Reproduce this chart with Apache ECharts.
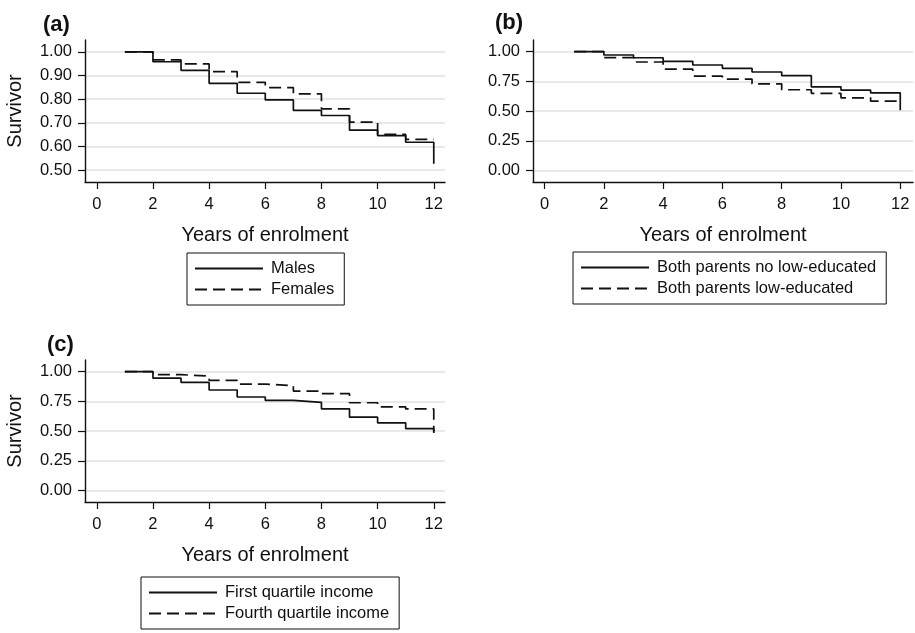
<!DOCTYPE html>
<html>
<head>
<meta charset="utf-8">
<script src="https://cdn.jsdelivr.net/npm/echarts@6/dist/echarts.min.js"></script>
<style>
  html, body { margin: 0; padding: 0; background: #fff; }
  #chart { width: 915px; height: 633px; }
</style>
</head>
<body>
<div id="chart"></div>
<script>
// step points: value at year k holds from k to k+1, last entry is the level after the final drop
const years = [1, 2, 3, 4, 5, 6, 7, 8, 9, 10, 11, 12];
const xTicks = [0, 2, 4, 6, 8, 10, 12];
const yTicksA = [0.5, 0.6, 0.7, 0.8, 0.9, 1.0];
const yTicksBC = [0, 0.25, 0.5, 0.75, 1.0];

const males = [1.0, 0.958, 0.922, 0.867, 0.825, 0.797, 0.753, 0.731, 0.669, 0.646, 0.618, 0.527];
const females = [1.0, 0.966, 0.949, 0.916, 0.871, 0.849, 0.822, 0.759, 0.703, 0.651, 0.63, 0.63];

const parentsNoLow = [1.0, 0.972, 0.949, 0.919, 0.888, 0.86, 0.829, 0.798, 0.705, 0.677, 0.654, 0.508];
const parentsLow = [1.0, 0.95, 0.913, 0.854, 0.795, 0.77, 0.73, 0.68, 0.649, 0.612, 0.584, 0.584];

const firstQuartile = [1.0, 0.945, 0.91, 0.846, 0.787, 0.758, 0.742, 0.688, 0.618, 0.57, 0.522, 0.485];
const fourthQuartile = [1.0, 0.975, 0.963, 0.927, 0.896, 0.882, 0.837, 0.815, 0.739, 0.705, 0.687, 0.5];

const font = '"Liberation Sans", Arial, Helvetica, sans-serif';
const ink = '#111';

const chart = echarts.init(document.getElementById('chart'));

const xAxisFor = gridIndex => ({
  type: 'value',
  gridIndex,
  min: -0.42,
  max: 12.4,
  name: 'Years of enrolment',
  nameLocation: 'middle',
  nameGap: 43,
  nameTextStyle: { fontFamily: font, fontSize: 20, color: ink },
  axisLine: { onZero: false, lineStyle: { color: ink, width: 1.4 } },
  axisTick: { length: 7, customValues: xTicks, lineStyle: { color: ink, width: 1.2 } },
  axisLabel: {
    customValues: xTicks,
    margin: 14,
    fontFamily: font,
    fontSize: 16.5,
    color: ink
  },
  splitLine: { show: false }
});

const yAxisFor = (gridIndex, min, max, ticks, withName) => ({
  type: 'value',
  gridIndex,
  min,
  max,
  name: withName ? 'Survivor' : '',
  nameLocation: 'middle',
  nameGap: 60,
  nameTextStyle: { fontFamily: font, fontSize: 20, color: ink },
  axisLine: { show: true, onZero: false, lineStyle: { color: ink, width: 1.4 } },
  axisTick: { show: true, length: 7, customValues: ticks, lineStyle: { color: ink, width: 1.2 } },
  axisLabel: {
    customValues: ticks,
    margin: 13,
    fontFamily: font,
    fontSize: 16.5,
    color: ink,
    formatter: v => v.toFixed(2)
  },
  splitLine: { show: true, lineStyle: { color: '#e2e2e2', width: 1.5 } }
});

const stepSeries = (name, values, axisIndex, dashed) => ({
  name,
  type: 'line',
  step: 'end',
  xAxisIndex: axisIndex,
  yAxisIndex: axisIndex,
  data: years.map((yr, i) => [yr, values[i]]),
  symbol: 'none',
  lineStyle: { color: ink, width: 1.7, type: dashed ? [12, 6] : 'solid' },
  itemStyle: { color: ink },
  silent: true
});

const legendFor = (names, left, top) => ({
  data: names,
  orient: 'vertical',
  left,
  top,
  height: 60,
  itemWidth: 68,
  itemHeight: 14,
  itemGap: 4,
  padding: [7, 10, 7, 7],
  borderColor: ink,
  borderWidth: 1,
  borderRadius: 0,
  backgroundColor: '#fff',
  selectedMode: false,
  itemStyle: { opacity: 0, borderWidth: 0 },
  textStyle: { fontFamily: font, fontSize: 16.5, lineHeight: 15, color: ink, padding: [0, 0, 0, 3] }
});

const panelTitle = (text, left, top) => ({
  text,
  left,
  top,
  padding: 0,
  textStyle: { fontFamily: font, fontSize: 22, fontWeight: 'bold', color: ink }
});

chart.setOption({
  animation: false,
  backgroundColor: '#fff',
  title: [
    panelTitle('(a)', 43, 14),
    panelTitle('(b)', 495, 12),
    panelTitle('(c)', 47, 334)
  ],
  grid: [
    { left: 85, top: 40, width: 360, height: 142, outerBoundsMode: 'none' },
    { left: 533, top: 40, width: 380, height: 142, outerBoundsMode: 'none' },
    { left: 85, top: 360, width: 360, height: 142, outerBoundsMode: 'none' }
  ],
  xAxis: [xAxisFor(0), Object.assign(xAxisFor(1), { min: -0.39, max: 12.43 }), xAxisFor(2)],
  yAxis: [
    yAxisFor(0, 0.45, 1.05, yTicksA, true),
    yAxisFor(1, -0.095, 1.098, yTicksBC, false),
    yAxisFor(2, -0.095, 1.098, yTicksBC, true)
  ],
  legend: [
    legendFor(['Males', 'Females'], 187, 253),
    legendFor(['Both parents no low-educated', 'Both parents low-educated'], 573, 252),
    legendFor(['First quartile income', 'Fourth quartile income'], 141, 577)
  ],
  series: [
    stepSeries('Males', males, 0, false),
    stepSeries('Females', females, 0, true),
    stepSeries('Both parents no low-educated', parentsNoLow, 1, false),
    stepSeries('Both parents low-educated', parentsLow, 1, true),
    stepSeries('First quartile income', firstQuartile, 2, false),
    stepSeries('Fourth quartile income', fourthQuartile, 2, true)
  ]
});
</script>
</body>
</html>
